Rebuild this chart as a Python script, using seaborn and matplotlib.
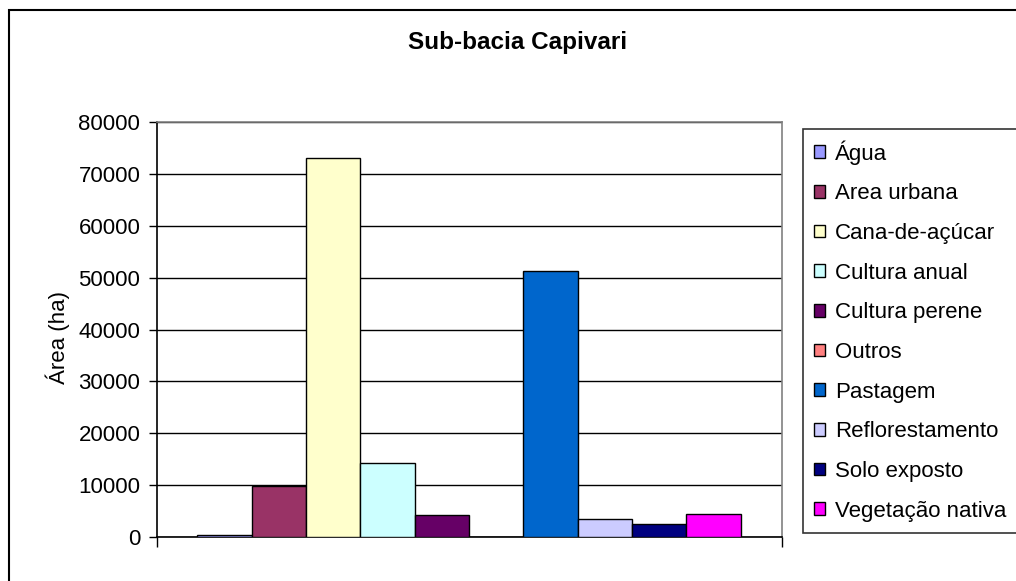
"""Sub-bacia Capivari: área por classe de uso do solo."""

import matplotlib
matplotlib.use("Agg")
import matplotlib.pyplot as plt
from matplotlib.patches import Patch, Rectangle
import pandas as pd
import seaborn as sns

# classes de uso do solo (rótulos como no original)
classes = ["Água", "Area urbana", "Cana-de-açúcar", "Cultura anual", "Cultura perene",
           "Outros", "Pastagem", "Reflorestamento", "Solo exposto", "Vegetação nativa"]
area_ha = [450, 9750, 73000, 14350, 4150, 0, 51200, 3450, 2600, 4500]
cores = ["#9999FF", "#993366", "#FFFFCC", "#CCFFFF", "#660066",
         "#FF8080", "#0066CC", "#CCCCFF", "#000080", "#FF00FF"]
yticks = [0, 10000, 20000, 30000, 40000, 50000, 60000, 70000, 80000]

df = pd.DataFrame({"classe": classes, "area": area_ha})

sns.set_style("white")
plt.rcParams["font.family"] = ["Liberation Sans", "DejaVu Sans"]
plt.rcParams.update({"text.color": "black", "axes.labelcolor": "black",
                     "xtick.color": "black", "ytick.color": "black"})

W, H = 1016, 581
fig = plt.figure(figsize=(W / 100, H / 100), dpi=100)
ax = fig.add_axes([157 / W, 1 - 537 / H, (782 - 157) / W, (537 - 122) / H])

sns.barplot(data=df, x="classe", y="area", hue="classe", palette=cores, saturation=1,
            width=1, edgecolor="black", linewidth=1, legend=False, ax=ax, zorder=3)

xmin, xmax = -1.24, 10.26
ax.set_xlim(xmin, xmax)
ax.set_ylim(0, 80000)
ax.set_yticks(yticks)
ax.set_yticklabels([str(v) for v in yticks], fontsize=16)
ax.set_xticks([xmin, xmax])
ax.set_xticklabels(["", ""])
ax.set_xlabel("")
ax.set_ylabel("")
ax.tick_params(axis="y", direction="out", length=6, width=1, color="black", pad=6, left=True)
ax.tick_params(axis="x", direction="out", length=7, width=1, color="black", bottom=True)

ax.yaxis.grid(True, color="black", linewidth=1)
ax.set_axisbelow(True)
for side in ("left", "bottom"):
    ax.spines[side].set_color("black")
    ax.spines[side].set_linewidth(1.2)
for side in ("top", "right"):
    ax.spines[side].set_visible(True)
    ax.spines[side].set_color("#808080")
    ax.spines[side].set_linewidth(1.2)

# título e rótulo do eixo
fig.text(518 / W, 1 - 43 / H, "Sub-bacia Capivari", ha="center", va="center",
         fontsize=17.5, fontweight="bold")
fig.text(58 / W, 1 - 337 / H, "Área (ha)", ha="center", va="center",
         rotation=90, fontsize=16)

# legenda
handles = [Patch(facecolor=c, edgecolor="black", linewidth=1) for c in cores]
leg = fig.legend(handles, classes, loc="upper left", bbox_to_anchor=(803 / W, 1 - 129 / H),
                 fontsize=16, frameon=True, fancybox=False, borderaxespad=0,
                 handlelength=0.5, handleheight=0.5, handletextpad=0.45,
                 labelspacing=0.84, borderpad=0.5)
leg.get_frame().set_edgecolor("black")
leg.get_frame().set_linewidth(1.2)

# moldura externa do gráfico
fig.patches.append(Rectangle((9 / W, -0.1), 1.2, 1.1 - 10 / H, transform=fig.transFigure,
                             fill=False, edgecolor="black", linewidth=1.5))

fig.savefig("out.png", dpi=100)
plt.close(fig)
